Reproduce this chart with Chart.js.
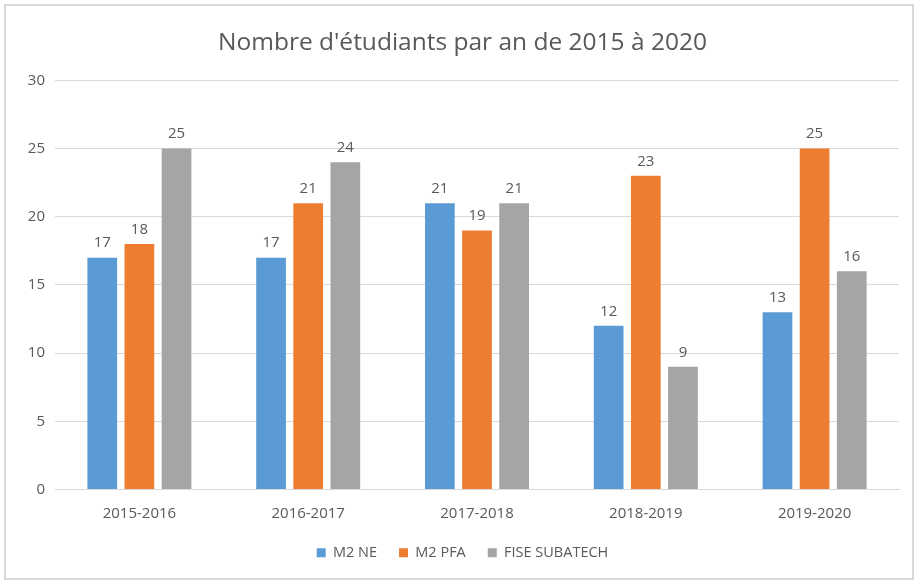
<!DOCTYPE html>
<html>
<head>
<meta charset="utf-8">
<script src="https://cdn.jsdelivr.net/npm/chart.js@4"></script>
<style>
  html, body { margin: 0; padding: 0; background: #ffffff; }
  #box {
    position: absolute; left: 4px; top: 4px;
    width: 906px; height: 572px;
    border: 2px solid #d9d9d9; background: #fff;
  }
</style>
</head>
<body>
<div id="box"><canvas id="chart" width="906" height="572"></canvas></div>
<script>
var years = ['2015-2016', '2016-2017', '2017-2018', '2018-2019', '2019-2020'];
var m2ne = [17, 17, 21, 12, 13];
var m2pfa = [18, 21, 19, 23, 25];
var fise = [25, 24, 21, 9, 16];

var txt = '#595959';
var fnt = "'Open Sans', 'Liberation Sans', sans-serif";

// valeurs au-dessus des barres
var valueLabels = {
  id: 'valueLabels',
  afterDatasetsDraw: function (chart) {
    var ctx = chart.ctx;
    ctx.save();
    ctx.font = '15px ' + fnt;
    ctx.fillStyle = txt;
    ctx.textAlign = 'center';
    ctx.textBaseline = 'bottom';
    chart.data.datasets.forEach(function (ds, i) {
      chart.getDatasetMeta(i).data.forEach(function (bar, j) {
        ctx.fillText(ds.data[j], bar.x, bar.y - 7);
      });
    });
    ctx.restore();
  }
};

var ctx = document.getElementById('chart').getContext('2d');
var chart = new Chart(ctx, {
  type: 'bar',
  data: {
    labels: years,
    datasets: [
      { label: 'M2 NE', data: m2ne, backgroundColor: '#5b9bd5' },
      { label: 'M2 PFA', data: m2pfa, backgroundColor: '#ed7d31' },
      { label: 'FISE SUBATECH', data: fise, backgroundColor: '#a5a5a5' }
    ]
  },
  options: {
    responsive: false,
    animation: false,
    layout: { padding: { left: 20, right: 13, top: 0, bottom: 8 } },
    datasets: {
      bar: { categoryPercentage: 0.66, barPercentage: 0.8 }
    },
    scales: {
      x: {
        grid: { display: false },
        border: { color: '#d9d9d9' },
        ticks: { color: txt, font: { family: fnt, size: 15 }, padding: 7 },
        afterFit: function (s) { s.height -= 6; }
      },
      y: {
        min: 0, max: 30,
        ticks: { stepSize: 5, color: txt, font: { family: fnt, size: 15 }, padding: 10 },
        grid: { color: '#d9d9d9', drawTicks: false },
        border: { display: false },
        afterFit: function (s) { s.width = 29; }
      }
    },
    plugins: {
      title: {
        display: true,
        text: "Nombre d'étudiants par an de 2015 à 2020",
        color: txt,
        font: { family: fnt, size: 24.5, weight: 'normal' },
        padding: { top: 22, bottom: 23 }
      },
      legend: {
        position: 'bottom',
        labels: {
          color: txt,
          font: { family: fnt, size: 14.5 },
          boxWidth: 9, boxHeight: 9,
          padding: 22
        }
      },
      tooltip: { enabled: false }
    }
  },
  plugins: [valueLabels]
});
</script>
</body>
</html>
